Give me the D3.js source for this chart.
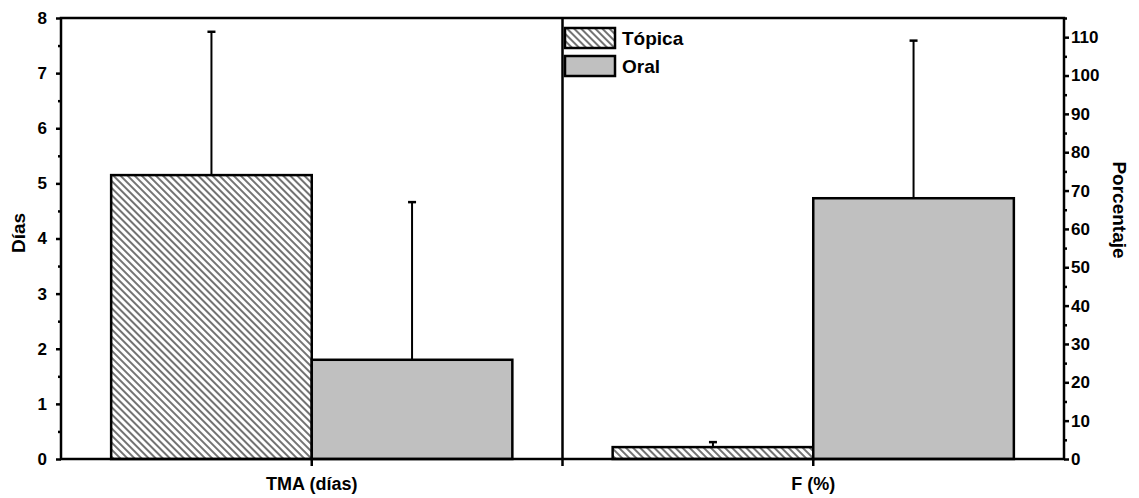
<!DOCTYPE html>
<html>
  <head>
    <meta charset="utf-8">
    <title>TMA y F</title>
    <script src="https://d3js.org/d3.v7.min.js"></script>
    <style>
      body { margin: 0; background: #fff; }
      .chart { font-family: "Liberation Sans", Arial, sans-serif; font-weight: bold; }
      .axis text { font-size: 17px; font-weight: bold; fill: #000; }
      .axis line { stroke: #000; stroke-width: 2.5; }
      .axis path { display: none; }
      .xaxis text { font-size: 18px; }
    </style>
  </head>
  <body>
    <svg class="chart"></svg>
    <script>
      // data
      const categories = ["TMA (días)", "F (%)"];
      const series = ["Tópica", "Oral"];
      const tmaValues = [5.15, 1.80];
      const tmaErrors = [2.60, 2.86];
      const fValues = [3.1, 68.0];
      const fErrors = [1.3, 41.1];
      const leftTicks = [0, 1, 2, 3, 4, 5, 6, 7, 8];
      const rightTicks = [0, 10, 20, 30, 40, 50, 60, 70, 80, 90, 100, 110];

      const W = 1139, H = 498;
      const margin = { top: 18, right: 75, bottom: 39, left: 61 };
      const x0L = margin.left, x1R = W - margin.right;
      const yTop = margin.top, yBot = H - margin.bottom;

      const svg = d3.select(".chart").attr("width", W).attr("height", H);

      // hatch for Tópica
      svg.append("defs").append("pattern")
        .attr("id", "hatch")
        .attr("patternUnits", "userSpaceOnUse")
        .attr("width", 5).attr("height", 5)
        .attr("patternTransform", "rotate(-45)")
        .call(p => {
          p.append("rect").attr("width", 5).attr("height", 5).attr("fill", "#fff");
          p.append("line").attr("x1", 1).attr("y1", 0).attr("x2", 1).attr("y2", 5)
            .attr("stroke", "#000").attr("stroke-width", 1.1);
        });

      const fills = { "Tópica": "url(#hatch)", "Oral": "#c0c0c0" };

      // scales
      const x = d3.scaleBand().domain(categories).range([x0L, x1R])
        .paddingInner(0.2).paddingOuter(0.1);
      const xs = d3.scaleBand().domain(series).range([0, x.bandwidth()]);
      const yL = d3.scaleLinear().domain([0, 8]).range([yBot, yTop]);
      const yR = d3.scaleLinear().domain([0, 115]).range([yBot, yTop]);

      const rows = [];
      series.forEach((s, i) => {
        rows.push({ cat: categories[0], s, v: tmaValues[i], e: tmaErrors[i], y: yL });
        rows.push({ cat: categories[1], s, v: fValues[i], e: fErrors[i], y: yR });
      });

      // error bars (drawn under bars)
      const eb = svg.append("g").attr("stroke", "#000").attr("stroke-width", 2);
      rows.forEach(d => {
        const cx = x(d.cat) + xs(d.s) + xs.bandwidth() / 2;
        eb.append("line").attr("x1", cx).attr("x2", cx)
          .attr("y1", d.y(d.v)).attr("y2", d.y(d.v + d.e));
        eb.append("line").attr("x1", cx - 4).attr("x2", cx + 4)
          .attr("y1", d.y(d.v + d.e)).attr("y2", d.y(d.v + d.e))
          .attr("stroke-width", 2.5);
      });

      // bars
      svg.append("g").selectAll("rect").data(rows).enter().append("rect")
        .attr("x", d => x(d.cat) + xs(d.s))
        .attr("width", xs.bandwidth())
        .attr("y", d => d.y(d.v))
        .attr("height", d => yBot - d.y(d.v))
        .attr("fill", d => fills[d.s])
        .attr("stroke", "#000").attr("stroke-width", 2.5);

      // frame and divider
      svg.append("rect").attr("x", x0L).attr("y", yTop)
        .attr("width", x1R - x0L).attr("height", yBot - yTop)
        .attr("fill", "none").attr("stroke", "#000").attr("stroke-width", 2.5);
      const mid = (x(categories[0]) + x.bandwidth() + x(categories[1])) / 2;
      svg.append("line").attr("x1", mid).attr("x2", mid)
        .attr("y1", yTop).attr("y2", yBot + 7)
        .attr("stroke", "#000").attr("stroke-width", 2.5);

      // left axis
      svg.append("g").attr("class", "axis").attr("transform", `translate(${x0L},0)`)
        .call(d3.axisLeft(yL).tickValues(leftTicks).tickSize(5).tickPadding(9).tickFormat(d3.format("d")));
      svg.append("g").attr("class", "axis").attr("transform", `translate(${x0L},0)`)
        .call(d3.axisLeft(yL).tickValues(leftTicks.slice(0, -1).map(v => v + 0.5)).tickSize(3).tickFormat(""));

      // right axis
      svg.append("g").attr("class", "axis").attr("transform", `translate(${x1R},0)`)
        .call(d3.axisRight(yR).tickValues(rightTicks).tickSize(5).tickPadding(2).tickFormat(d3.format("d")));
      svg.append("g").attr("class", "axis").attr("transform", `translate(${x1R},0)`)
        .call(d3.axisRight(yR).tickValues(rightTicks.map(v => v + 5)).tickSize(3).tickFormat(""));

      // bottom axis
      svg.append("g").attr("class", "axis xaxis").attr("transform", `translate(0,${yBot})`)
        .call(d3.axisBottom(x).tickSize(7).tickPadding(11));

      // axis titles
      svg.append("text").attr("transform", "translate(25,233) rotate(-90)")
        .attr("text-anchor", "middle").attr("font-size", 19).text("Días");
      svg.append("text").attr("transform", "translate(1113,210) rotate(90)")
        .attr("text-anchor", "middle").attr("font-size", 19).text("Porcentaje");

      // legend
      const lg = svg.append("g").attr("transform", "translate(565,28)");
      series.forEach((s, i) => {
        lg.append("rect").attr("x", 0).attr("y", i * 28).attr("width", 50).attr("height", 20)
          .attr("fill", fills[s]).attr("stroke", "#000").attr("stroke-width", 2.5);
        lg.append("text").attr("x", 57).attr("y", i * 28 + 17)
          .attr("font-size", 19).text(s);
      });
    </script>
  </body>
</html>
